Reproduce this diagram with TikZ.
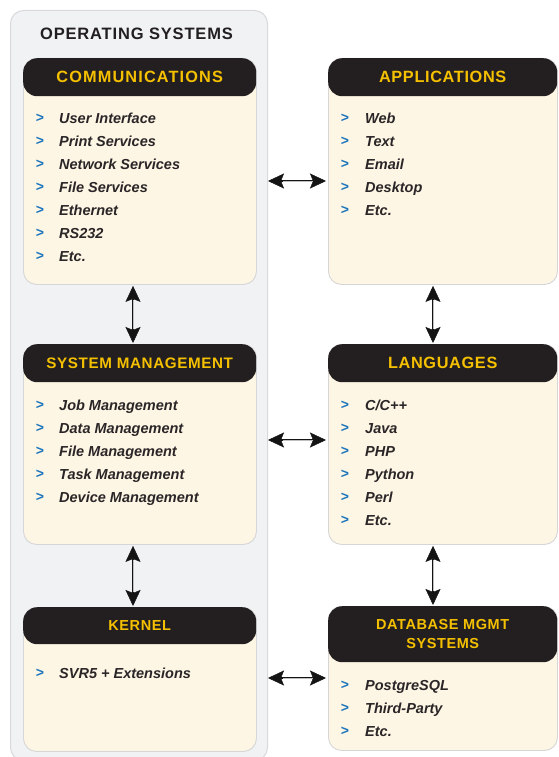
\documentclass[tikz,border=0pt]{standalone}
\usepackage{fontspec}
\setmainfont{Liberation Sans}
\newfontfamily\hdrfont[LetterSpace=4]{Liberation Sans}
\newfontfamily\hdrwide[LetterSpace=7]{Liberation Sans}
\newfontfamily\ttlfont[LetterSpace=5]{Liberation Sans}
\usetikzlibrary{arrows.meta,calc}
\definecolor{panelbg}{HTML}{F1F2F4}
\definecolor{panelln}{HTML}{D8D9DC}
\definecolor{boxbg}{HTML}{FDF6E5}
\definecolor{boxln}{HTML}{D6D6D6}
\definecolor{hdrbg}{HTML}{231F20}
\definecolor{hdrfg}{HTML}{F5C000}
\definecolor{bulfg}{HTML}{1C75BC}
\definecolor{itemfg}{HTML}{2A2627}
\definecolor{arrfg}{HTML}{141414}
\tikzset{
  panel/.style={draw=panelln, fill=panelbg, line width=1pt, rounded corners=13pt, anchor=north west, inner sep=0pt},
  cbox/.style={draw=boxln, fill=boxbg, line width=0.9pt, rounded corners=13pt, anchor=north west, inner sep=0pt},
  hdr/.style={fill=hdrbg, rounded corners=14pt, text=hdrfg, anchor=north west, inner sep=0pt, align=center},
  bul/.style={text=bulfg, font=\bfseries\fontsize{14}{14}\selectfont, inner sep=0pt, anchor=center},
  itemtxt/.style={text=itemfg, font=\bfseries\itshape\fontsize{14.5}{17}\selectfont, inner sep=0pt, anchor=base west},
  ttl/.style={text=hdrbg, font=\ttlfont\bfseries\fontsize{16.5}{18}\selectfont, inner sep=0pt},
  link/.style={draw=arrfg, line width=2pt,
    {Stealth[length=16pt 0, width=15pt 0, inset=3pt 0, line width=0.5pt 0]}-{Stealth[length=16pt 0, width=15pt 0, inset=3pt 0, line width=0.5pt 0]},
    postaction={draw=white!75!black, line width=0.7pt, arrows=-, shorten >=15pt, shorten <=15pt}}
}
\newcommand\bulletlist[5]{%
  \foreach \t [count=\i] in {#5} {
    \node[bul] (#1b\i) at ({#2},{#4+23*(\i-1)}) {>};
    \node[itemtxt] (#1\i) at ({#3},{#4+5.5+23*(\i-1)}) {\t};
  }%
}
\begin{document}
\begin{tikzpicture}[x=1pt,y=-1pt]
\useasboundingbox (0,0) rectangle (558,757);
% outer panel
\node[panel, minimum width=257pt, minimum height=750pt] (os) at (10,10) {};
\node[ttl] (ostitle) at (136.5,34) {OPERATING SYSTEMS};
% boxes
\node[cbox, minimum width=233pt, minimum height=226pt] (comm) at (23,58) {};
\node[cbox, minimum width=229pt, minimum height=226pt] (apps) at (328,58) {};
\node[cbox, minimum width=233pt, minimum height=200pt] (sys) at (23,344) {};
\node[cbox, minimum width=229pt, minimum height=200pt] (lang) at (328,344) {};
\node[cbox, minimum width=233pt, minimum height=144pt] (kern) at (23,607) {};
\node[cbox, minimum width=229pt, minimum height=144pt] (db) at (328,606) {};
% headers
\node[hdr, minimum width=233pt, minimum height=38pt, font=\hdrwide\bfseries\fontsize{16.3}{18}\selectfont] (commh) at (23,58) {COMMUNICATIONS};
\node[hdr, minimum width=229pt, minimum height=38pt, font=\hdrfont\bfseries\fontsize{16.3}{18}\selectfont] (appsh) at (328,58) {APPLICATIONS};
\node[hdr, minimum width=233pt, minimum height=38pt, font=\hdrfont\bfseries\fontsize{15.2}{18}\selectfont] (sysh) at (23,344) {SYSTEM MANAGEMENT};
\node[hdr, minimum width=229pt, minimum height=38pt, font=\hdrfont\bfseries\fontsize{16.3}{18}\selectfont] (langh) at (328,344) {LANGUAGES};
\node[hdr, minimum width=233pt, minimum height=37pt, font=\hdrfont\bfseries\fontsize{14.5}{18}\selectfont] (kernh) at (23,607) {KERNEL};
\node[hdr, minimum width=229pt, minimum height=56pt, font=\hdrfont\bfseries\fontsize{14.5}{19}\selectfont] (dbh) at (328,606) {DATABASE MGMT\\SYSTEMS};
% items
\bulletlist{commi}{40}{59}{118}{User Interface,Print Services,Network Services,File Services,Ethernet,RS232,Etc.}
\bulletlist{appsi}{345}{365}{118}{Web,Text,Email,Desktop,Etc.}
\bulletlist{sysi}{40}{59}{405}{Job Management,Data Management,File Management,Task Management,Device Management}
\bulletlist{langi}{345}{365}{405}{C/C++,Java,PHP,Python,Perl,Etc.}
\bulletlist{kerni}{40}{59}{673}{SVR5 + Extensions}
\bulletlist{dbi}{345}{365}{685}{PostgreSQL,Third-Party,Etc.}
% arrow guide coordinates
\coordinate (h1) at (0,181);
\coordinate (h2) at (0,440);
\coordinate (h3) at (0,678);
\coordinate (vl) at (133,0);
\coordinate (vr) at (433,0);
% connectors
\draw[link, shorten >=2pt] (os.east |- h1) -- (apps.west |- h1);
\draw[link, shorten >=2pt] (os.east |- h2) -- (lang.west |- h2);
\draw[link, shorten >=2pt] (os.east |- h3) -- (db.west |- h3);
\draw[link, shorten <=1pt, shorten >=1pt] (comm.south -| vl) -- (sys.north -| vl);
\draw[link, shorten <=1pt, shorten >=1pt] (sys.south -| vl) -- (kern.north -| vl);
\draw[link, shorten <=1pt, shorten >=1pt] (apps.south -| vr) -- (lang.north -| vr);
\draw[link, shorten <=1pt, shorten >=1pt] (lang.south -| vr) -- (db.north -| vr);
\end{tikzpicture}
\end{document}
